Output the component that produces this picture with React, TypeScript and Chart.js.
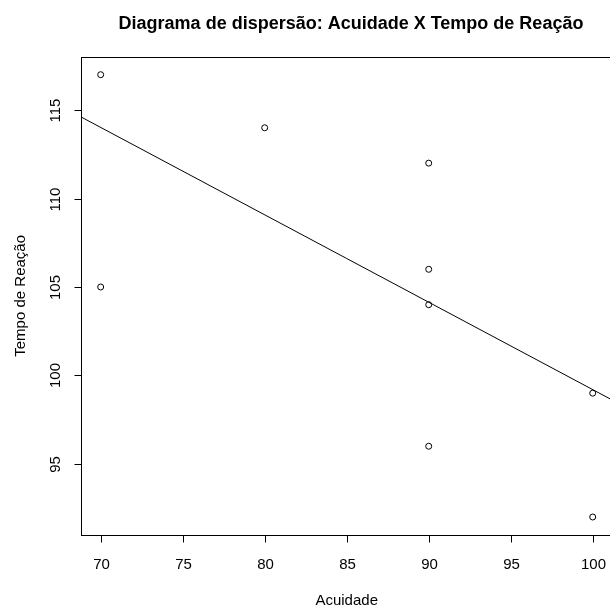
import React, { useEffect, useRef } from "react";
import { Chart, registerables } from "chart.js";

Chart.register(...registerables);

const acuidade = [70, 70, 80, 90, 90, 90, 90, 100, 100];
const tempoReacao = [117, 105, 114, 112, 106, 104, 96, 99, 92];
const regIntercept = 148.6;
const regSlope = -0.494;
const xTicks = [70, 75, 80, 85, 90, 95, 100];
const yTicks = [95, 100, 105, 110, 115];
const xRange = [68.8, 101.2];
const yRange = [91, 118];
const titleText = "Diagrama de dispersão: Acuidade X Tempo de Reação";
const xLabel = "Acuidade";
const yLabel = "Tempo de Reação";

const FONT = "'Liberation Sans', Arial, sans-serif";

const rAxesPlugin = {
  id: "rAxes",
  afterDraw(chart: any) {
    const ctx = chart.ctx as CanvasRenderingContext2D;
    const area = chart.chartArea;
    const xs = chart.scales.x;
    const ys = chart.scales.y;
    ctx.save();
    ctx.strokeStyle = "#000";
    ctx.fillStyle = "#000";
    ctx.lineWidth = 1;
    // box
    ctx.strokeRect(Math.round(area.left) + 0.5, Math.round(area.top) + 0.5,
      Math.round(area.right - area.left), Math.round(area.bottom - area.top));
    // x ticks
    ctx.font = `15px ${FONT}`;
    ctx.textAlign = "center";
    ctx.textBaseline = "alphabetic";
    const by = Math.round(area.bottom) + 0.5;
    for (const t of xTicks) {
      const px = Math.round(xs.getPixelForValue(t)) + 0.5;
      ctx.beginPath();
      ctx.moveTo(px, by);
      ctx.lineTo(px, by + 7);
      ctx.stroke();
      ctx.fillText(String(t), px, 569);
    }
    // y ticks
    const lx = Math.round(area.left) + 0.5;
    for (const t of yTicks) {
      const py = Math.round(ys.getPixelForValue(t)) + 0.5;
      ctx.beginPath();
      ctx.moveTo(lx, py);
      ctx.lineTo(lx - 7, py);
      ctx.stroke();
      ctx.save();
      ctx.translate(60, py);
      ctx.rotate(-Math.PI / 2);
      ctx.fillText(String(t), 0, 0);
      ctx.restore();
    }
    // axis labels
    const cx = (area.left + area.right) / 2;
    ctx.fillText(xLabel, cx, 605);
    ctx.save();
    ctx.translate(25, (area.top + area.bottom) / 2);
    ctx.rotate(-Math.PI / 2);
    ctx.fillText(yLabel, 0, 0);
    ctx.restore();
    // title
    ctx.font = `bold 18px ${FONT}`;
    ctx.fillText(titleText, 351, 29);
    ctx.restore();
  },
};

export default function App() {
  const ref = useRef<HTMLCanvasElement>(null);
  useEffect(() => {
    document.body.style.margin = "0";
    const points = acuidade.map((x, i) => ({ x, y: tempoReacao[i] }));
    const linePts = xRange.map((x) => ({ x, y: regIntercept + regSlope * x }));
    const chart = new Chart(ref.current!, {
      type: "scatter",
      data: {
        datasets: [
          {
            type: "scatter",
            data: points,
            pointRadius: 3,
            pointBorderWidth: 1,
            pointBorderColor: "#000",
            pointBackgroundColor: "rgba(0,0,0,0)",
            pointHoverRadius: 3,
          },
          {
            type: "line",
            data: linePts,
            borderColor: "#000",
            borderWidth: 1,
            pointRadius: 0,
            fill: false,
          } as any,
        ],
      },
      options: {
        animation: false,
        responsive: false,
        devicePixelRatio: 1,
        layout: { padding: { left: 81, top: 57, right: 7.6, bottom: 72.3 } },
        plugins: { legend: { display: false }, title: { display: false }, tooltip: { enabled: false } },
        scales: {
          x: { type: "linear", min: xRange[0], max: xRange[1], display: false },
          y: { type: "linear", min: yRange[0], max: yRange[1], display: false },
        },
      },
      plugins: [rAxesPlugin],
    });
    return () => chart.destroy();
  }, []);
  return (
    <div style={{ position: "fixed", left: 0, top: 0, width: 610, height: 607, overflow: "hidden", background: "#fff" }}>
      <canvas ref={ref} width={620} height={607} style={{ display: "block" }} />
    </div>
  );
}
